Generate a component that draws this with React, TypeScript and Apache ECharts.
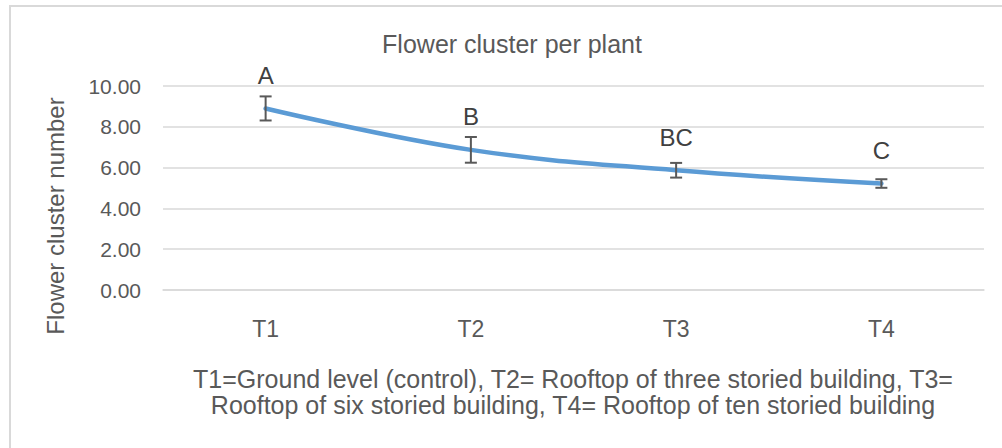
import React, { useEffect, useRef } from "react";
import * as echarts from "echarts";

const categories = ["T1", "T2", "T3", "T4"];
const meanValues = [8.9, 6.87, 5.87, 5.22];
const errorValues = [0.59, 0.63, 0.36, 0.21];
const groupLetters = ["A", "B", "BC", "C"];
const yTicks = [0, 2, 4, 6, 8, 10];
const chartTitle = "Flower cluster per plant";
const yAxisTitle = "Flower cluster number";
const captionLines = [
  "T1=Ground level (control), T2= Rooftop of three storied building, T3=",
  "Rooftop of six storied building, T4= Rooftop of ten storied building",
];

const FONT = "'Liberation Sans', Arial, sans-serif";

export default function App() {
  const ref = useRef<HTMLDivElement>(null);
  useEffect(() => {
    if (!ref.current) return;
    const chart = echarts.init(ref.current, null, { renderer: "svg" });
    const errData = categories.map((c, i) => [i, meanValues[i], errorValues[i]]);
    chart.setOption({
      animation: false,
      backgroundColor: "#ffffff",
      grid: { left: 163, right: 18, top: 86, bottom: 158 },
      xAxis: {
        type: "category",
        data: categories,
        boundaryGap: true,
        axisLine: { show: true, lineStyle: { color: "#d9d9d9", width: 1.5 } },
        axisTick: { show: false },
        axisLabel: { color: "#595959", fontSize: 23, fontFamily: FONT, margin: 27 },
      },
      yAxis: {
        type: "value",
        min: yTicks[0],
        max: yTicks[yTicks.length - 1],
        interval: 2,
        axisLine: { show: false },
        axisTick: { show: false },
        splitLine: { lineStyle: { color: "#d9d9d9", width: 1.5 } },
        axisLabel: {
          color: "#595959",
          fontSize: 21,
          fontFamily: FONT,
          margin: 22,
          formatter: (v: number) => v.toFixed(2),
        },
      },
      graphic: [
        {
          type: "rect",
          shape: { x: 10, y: 6, width: 1010, height: 460 },
          style: { fill: "none", stroke: "#d9d9d9", lineWidth: 2 },
          silent: true,
        },
        {
          type: "text",
          x: 512,
          y: 44,
          style: {
            text: chartTitle,
            fill: "#595959",
            fontSize: 25,
            fontFamily: FONT,
            align: "center",
            verticalAlign: "middle",
          },
        },
        {
          type: "text",
          x: 55,
          y: 216,
          rotation: Math.PI / 2,
          style: {
            text: yAxisTitle,
            fill: "#595959",
            fontSize: 24,
            fontFamily: FONT,
            align: "center",
            verticalAlign: "middle",
          },
        },
        ...captionLines.map((t, i) => ({
          type: "text",
          x: 573,
          y: 379 + i * 26,
          style: {
            text: t,
            fill: "#595959",
            fontSize: 25,
            fontFamily: FONT,
            align: "center",
            verticalAlign: "middle",
          },
        })),
      ],
      series: [
        {
          type: "line",
          data: meanValues,
          smooth: 0.4,
          showSymbol: false,
          symbol: "none",
          lineStyle: { color: "#5b9bd5", width: 4.5, cap: "round" },
          z: 2,
        },
        {
          type: "custom",
          data: errData,
          z: 3,
          renderItem: (params: any, api: any) => {
            const i = api.value(0);
            const v = api.value(1);
            const e = api.value(2);
            const top = api.coord([i, v + e]);
            const bot = api.coord([i, v - e]);
            const mid = api.coord([i, v]);
            const half = 6;
            const ls = { stroke: "#595959", lineWidth: 2 };
            return {
              type: "group",
              children: [
                { type: "line", shape: { x1: top[0], y1: top[1], x2: bot[0], y2: bot[1] }, style: ls },
                { type: "line", shape: { x1: top[0] - half, y1: top[1], x2: top[0] + half, y2: top[1] }, style: ls },
                { type: "line", shape: { x1: bot[0] - half, y1: bot[1], x2: bot[0] + half, y2: bot[1] }, style: ls },
                {
                  type: "text",
                  x: mid[0],
                  y: mid[1] - 21,
                  style: {
                    text: groupLetters[params.dataIndex],
                    fill: "#404040",
                    fontSize: 24,
                    fontFamily: FONT,
                    align: "center",
                    verticalAlign: "bottom",
                  },
                },
              ],
            };
          },
        },
      ],
    });
    return () => chart.dispose();
  }, []);
  return (
    <div
      ref={ref}
      style={{ position: "absolute", left: 0, top: 0, width: 1002, height: 448 }}
    />
  );
}
